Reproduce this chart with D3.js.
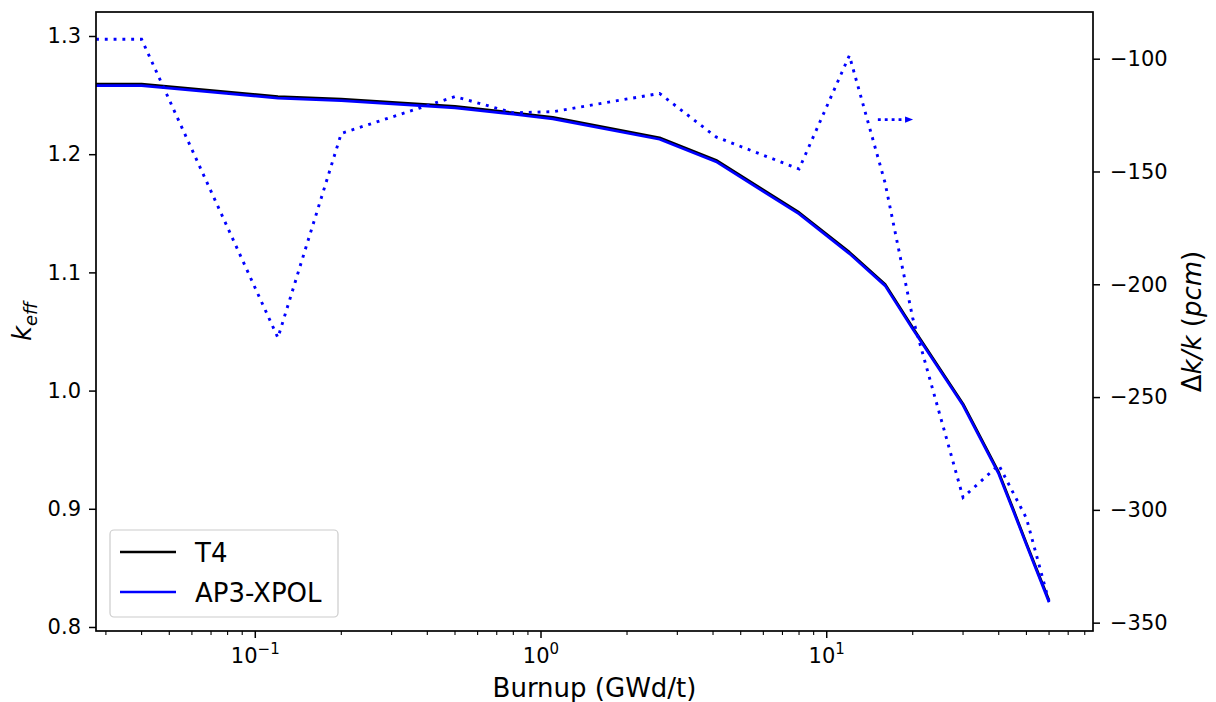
<!DOCTYPE html>
<html><head><meta charset="utf-8">
<script src="https://cdn.jsdelivr.net/npm/d3@7"></script>
<style>
body{margin:0;background:#fff}
svg{display:block}
text{font-family:"DejaVu Sans",sans-serif;fill:#000}
</style>
</head><body>
<svg id="c" width="1216" height="702"></svg>
<script>
// ---- data ----
const burnup   = [0, 0.04, 0.12, 0.2, 0.5, 0.8, 1.1, 2.6, 4.1, 8, 12, 16, 20, 30, 40, 45, 50, 60];
const keffT4   = [1.2592,1.2592,1.2487,1.2466,1.2404,1.2350,1.2311,1.2138,1.1949,1.1507,1.1171,1.0900,1.0532,0.9887,0.9307,0.8993,0.8707,0.8224];
const keffAP3  = [1.2580,1.2580,1.2475,1.2454,1.2392,1.2338,1.2299,1.2126,1.1937,1.1495,1.1159,1.0888,1.0520,0.9875,0.9295,0.8981,0.8695,0.8209];
const deltaPcm = [-91.4,-91.4,-223.7,-133.1,-116.8,-124.0,-123.5,-115.4,-134.7,-148.9,-98.6,-155.0,-215.0,-294.5,-280.1,-292.6,-303.7,-340.7];
const arrowBurnup = [15.1, 19.8];
const arrowPcm    = [-127, -127];
const keffTicks   = [0.8, 0.9, 1.0, 1.1, 1.2, 1.3];
const pcmTicks    = [-350, -300, -250, -200, -150, -100];
const burnupMajor = [0.1, 1, 10];
const burnupExp   = ["\u22121", "0", "1"];
const seriesNames = ["T4", "AP3-XPOL"];
const seriesColors = ["#000000", "#0000ff"];

// ---- layout ----
const L = 96, R = 1093, T = 12, B = 631;
const svg = d3.select("#c");

const x = d3.scaleLog().domain([0.0277, 85.5]).range([L, R]).clamp(true);
const yL = d3.scaleLinear().domain([0.7966, 1.3203]).range([B, T]);
const yR = d3.scaleLinear().domain([-353.7, -79.3]).range([B, T]);

const defs = svg.append("defs");
defs.append("clipPath").attr("id","clip")
  .append("rect").attr("x",L).attr("y",T).attr("width",R-L).attr("height",B-T);
defs.append("marker").attr("id","arrowhead").attr("viewBox","0 0 10 10")
  .attr("refX",8).attr("refY",5).attr("markerWidth",10).attr("markerHeight",8)
  .attr("markerUnits","userSpaceOnUse").attr("orient","auto")
  .append("path").attr("d","M0,1 L10,5 L0,9 Z").attr("fill","#0000ff");

const plot = svg.append("g").attr("clip-path","url(#clip)");
const idx = d3.range(burnup.length);

const lineL = (arr) => d3.line().x(i => x(burnup[i])).y(i => yL(arr[i]))(idx);
plot.append("path").attr("d", lineL(keffT4)).attr("fill","none")
  .attr("stroke", seriesColors[0]).attr("stroke-width",2.7).attr("stroke-linejoin","round");
plot.append("path").attr("d", lineL(keffAP3)).attr("fill","none")
  .attr("stroke", seriesColors[1]).attr("stroke-width",2.7).attr("stroke-linejoin","round");

const lineR = d3.line().x(i => x(burnup[i])).y(i => yR(deltaPcm[i]));
plot.append("path").attr("d", lineR(idx)).attr("fill","none")
  .attr("stroke","#0000ff").attr("stroke-width",2.9).attr("stroke-dasharray","2.9,5.9");

// arrow annotation pointing to right axis
plot.append("path")
  .attr("d", d3.line().x(i => x(arrowBurnup[i])).y(i => yR(arrowPcm[i]))([0,1]))
  .attr("fill","none").attr("stroke","#0000ff").attr("stroke-width",2.9)
  .attr("stroke-dasharray","2.9,4").attr("marker-end","url(#arrowhead)");

// ---- axes ----
const tickStyle = g => {
  g.select(".domain").remove();
  g.selectAll(".tick line").attr("stroke","#000").attr("stroke-width",1.5);
  g.selectAll(".tick text").attr("font-size",21).attr("font-family","DejaVu Sans");
};

svg.append("g").attr("transform",`translate(${L},0)`)
  .call(d3.axisLeft(yL).tickValues(keffTicks).tickSize(7).tickPadding(8).tickFormat(d3.format(".1f")))
  .call(tickStyle);
svg.append("g").attr("transform",`translate(${R},0)`)
  .call(d3.axisRight(yR).tickValues(pcmTicks).tickSize(7).tickPadding(10).tickFormat(d => "\u2212" + Math.abs(d)))
  .call(tickStyle);

const minor = [];
for (let e = -2; e <= 1; e++) for (let m = 2; m <= 9; m++) {
  const v = m * Math.pow(10, e);
  if (v >= x.domain()[0] && v <= x.domain()[1]) minor.push(v);
}
const xg = svg.append("g").attr("transform",`translate(0,${B})`);
xg.selectAll("line.minor").data(minor).join("line").attr("class","minor")
  .attr("x1", d => x(d)).attr("x2", d => x(d)).attr("y1",0).attr("y2",4)
  .attr("stroke","#000").attr("stroke-width",1.1);
xg.selectAll("line.major").data(burnupMajor).join("line").attr("class","major")
  .attr("x1", d => x(d)).attr("x2", d => x(d)).attr("y1",0).attr("y2",7)
  .attr("stroke","#000").attr("stroke-width",1.5);
const xl = xg.selectAll("text.lab").data(burnupMajor).join("text").attr("class","lab")
  .attr("x", d => x(d)).attr("y", 32).attr("text-anchor","middle").attr("font-size",21);
xl.append("tspan").text("10");
xl.append("tspan").attr("dy",-9).attr("font-size",15).text((d,i) => burnupExp[i]);

svg.append("rect").attr("x",L).attr("y",T).attr("width",R-L).attr("height",B-T)
  .attr("fill","none").attr("stroke","#000").attr("stroke-width",1.7);

svg.append("text").attr("x",(L+R)/2).attr("y",697).attr("text-anchor","middle")
  .attr("font-size",26).text("Burnup (GWd/t)");

const ylab = svg.append("text").attr("transform",`translate(31,${(T+B)/2}) rotate(-90)`)
  .attr("text-anchor","middle").attr("font-size",26);
ylab.append("tspan").attr("font-style","italic").text("k");
ylab.append("tspan").attr("font-style","italic").attr("font-size",18).attr("dy",6).text("eff");

const rlab = svg.append("text").attr("transform",`translate(1201,${(T+B)/2}) rotate(-90)`)
  .attr("text-anchor","middle").attr("font-size",26);
rlab.append("tspan").text("\u0394");
rlab.append("tspan").attr("font-style","italic").text("k/k");
rlab.append("tspan").text(" (");
rlab.append("tspan").attr("font-style","italic").text("pcm");
rlab.append("tspan").text(")");

const lg = svg.append("g");
lg.append("rect").attr("x",110).attr("y",530).attr("width",228).attr("height",87)
  .attr("rx",4).attr("fill","#fff").attr("fill-opacity",0.8)
  .attr("stroke","#cccccc").attr("stroke-width",1.2);
seriesNames.forEach((n,i) => {
  const yy = 552 + i*40;
  lg.append("line").attr("x1",120).attr("x2",176).attr("y1",yy).attr("y2",yy)
    .attr("stroke",seriesColors[i]).attr("stroke-width",2.7);
  lg.append("text").attr("x",195).attr("y",yy+9.5).attr("font-size",26).text(n);
});
</script>
</body></html>
